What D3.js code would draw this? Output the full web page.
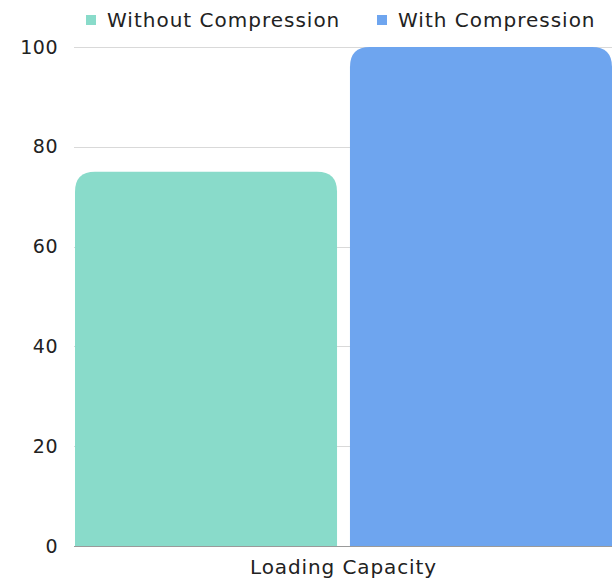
<!DOCTYPE html>
<html>
<head>
<meta charset="utf-8">
<script src="https://cdn.jsdelivr.net/npm/d3@7"></script>
<style>
  html, body { margin: 0; padding: 0; background: #fff; }
  svg { display: block; font-family: "DejaVu Sans", sans-serif; }
</style>
</head>
<body>
<svg id="chart" width="612" height="579"></svg>
<script>
// Loading capacity with and without compression
const categories = ["Loading Capacity"];
const seriesNames = ["Without Compression", "With Compression"];
const withoutCompression = [75];
const withCompression = [100];
const seriesColors = ["#89dbca", "#6ea5ef"];
const yTicks = [0, 20, 40, 60, 80, 100];

const seriesValues = [withoutCompression, withCompression];

const svg = d3.select("#chart");
const margin = { top: 47, right: 0, bottom: 33, left: 75 };
const W = 612, H = 579;

const x0 = d3.scaleBand()
  .domain(categories)
  .range([margin.left, W - margin.right])
  .padding(0);

const x1 = d3.scaleBand()
  .domain(seriesNames)
  .range([0, x0.bandwidth()])
  .paddingInner(0.047)
  .paddingOuter(0);

const y = d3.scaleLinear()
  .domain([0, 100])
  .range([H - margin.bottom, margin.top]);

// gridlines
svg.append("g")
  .selectAll("line")
  .data(yTicks)
  .join("line")
  .attr("x1", margin.left - 1)
  .attr("x2", W)
  .attr("y1", d => Math.round(y(d)) + 0.5)
  .attr("y2", d => Math.round(y(d)) + 0.5)
  .attr("stroke", d => d === 0 ? "#9a9a9a" : "#d9d9d9")
  .attr("stroke-width", 1);

// y axis labels
const yAxis = d3.axisLeft(y).tickValues(yTicks).tickSize(0).tickPadding(0);
svg.append("g")
  .attr("transform", `translate(${margin.left - 17},0)`)
  .call(yAxis)
  .call(g => g.select(".domain").remove())
  .call(g => g.selectAll("text")
    .attr("font-size", 19)
    .attr("letter-spacing", 0.5)
    .attr("fill", "#222")
    .attr("font-family", "DejaVu Sans, sans-serif"));

// bars with rounded top corners
const r = 20;
function topRoundedBar(x, yTop, w, h) {
  const rr = Math.min(r, w / 2, h);
  return `M${x},${yTop + h}` +
    `V${yTop + rr}` +
    `Q${x},${yTop} ${x + rr},${yTop}` +
    `H${x + w - rr}` +
    `Q${x + w},${yTop} ${x + w},${yTop + rr}` +
    `V${yTop + h}Z`;
}

const groups = svg.append("g")
  .selectAll("g")
  .data(categories)
  .join("g")
  .attr("transform", d => `translate(${x0(d)},0)`);

groups.selectAll("path")
  .data((d, i) => seriesNames.map((s, k) => ({ series: s, value: seriesValues[k][i], color: seriesColors[k] })))
  .join("path")
  .attr("d", d => topRoundedBar(x1(d.series), y(d.value), x1.bandwidth(), y(0) - y(d.value)))
  .attr("fill", d => d.color);

// x axis category label
const xAxis = d3.axisBottom(x0).tickSize(0).tickPadding(14);
svg.append("g")
  .attr("transform", `translate(0,${y(0)})`)
  .call(xAxis)
  .call(g => g.select(".domain").remove())
  .call(g => g.selectAll("text")
    .attr("font-size", 20)
    .attr("letter-spacing", 0.9)
    .attr("fill", "#222")
    .attr("font-family", "DejaVu Sans, sans-serif"));

// legend
const legendX = [86, 377];
const legend = svg.append("g")
  .selectAll("g")
  .data(seriesNames)
  .join("g")
  .attr("transform", (d, i) => `translate(${legendX[i]},15)`);

legend.append("rect")
  .attr("width", 10)
  .attr("height", 10)
  .attr("y", 0)
  .attr("fill", (d, i) => seriesColors[i]);

legend.append("text")
  .attr("x", 21)
  .attr("y", 11.5)
  .attr("font-size", 20)
  .attr("letter-spacing", 1)
  .attr("fill", "#222")
  .text(d => d);
</script>
</body>
</html>
